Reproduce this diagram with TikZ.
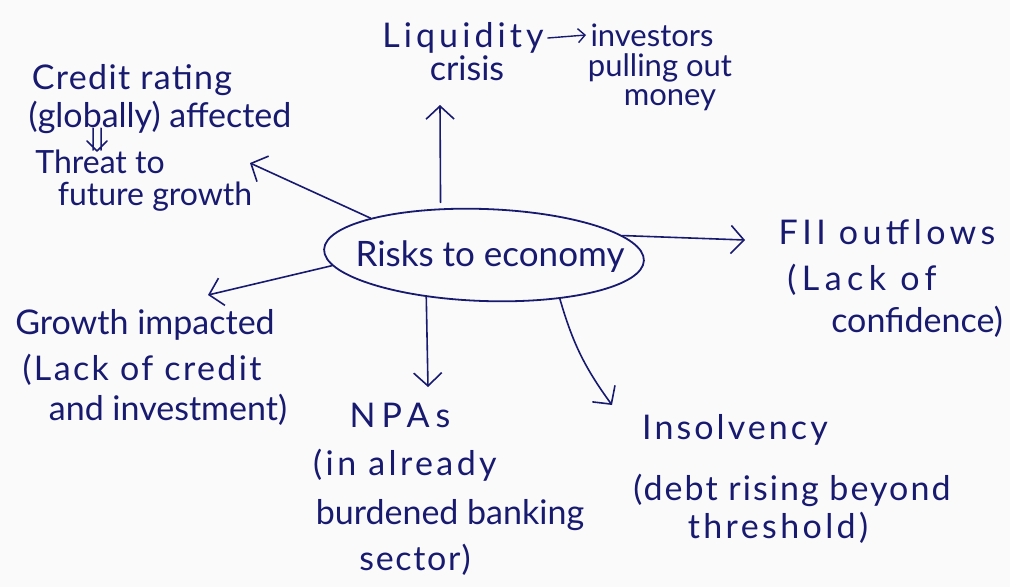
\documentclass[tikz,border=0pt]{standalone}
\usepackage{fontspec}
\setmainfont{Lato}
\usetikzlibrary{shapes.geometric,arrows.meta}
\definecolor{ink}{RGB}{24,26,112}
\definecolor{paper}{RGB}{250,250,250}
\tikzset{
  word/.style={text=ink, inner sep=0pt, font=\fontsize{34}{36}\selectfont},
  track/.style={word, font={\fontsize{34}{36}\selectfont\addfontfeatures{LetterSpace=#1}}},
  midword/.style={word, font=\fontsize{31}{33}\selectfont},
  link/.style={draw=ink, line width=1.6pt, line cap=round,
    -{Straight Barb[length=13pt,width=28pt,line width=1.6pt]}},
  hub/.style={ellipse, draw=ink, line width=1.8pt, minimum width=320pt,
    minimum height=92pt, inner sep=0pt}
}
\begin{document}
\begin{tikzpicture}[x=1pt,y=-1pt]
% page
\fill[paper] (0,0) rectangle (1010,587);
\useasboundingbox (0,0) rectangle (1010,587);

% central idea
\node[hub, rotate=-2] (ctr) at (484,255) {};
\node[word, font=\fontsize{35}{37}\selectfont] (ctrtext) at (490,257) {Risks to economy};

% liquidity branch
\node[track=12] (liq1) at (463,38) {Liquidity};
\node[word] (liq2) at (467,68) {crisis};
\node[midword] (inv1) at (652,35) {investors};
\node[midword] (inv2) at (660,68) {pulling out};
\node[midword] (inv3) at (670,100) {money};
\draw[link, line width=1.4pt, -{Straight Barb[length=7pt,width=14pt,line width=1.4pt]}]
  (liq1.east) ++(4,0) coordinate (liqA) (liqA) -- (inv1.west -| 586,0) coordinate (liqB);
\coordinate (liqTip) at (440,105);
\draw[link, shorten <=6pt] (ctr.135) -- (liqTip);

% credit rating branch
\node[track=4] (cr1) at (132,80) {Credit rating};
\node[word] (cr2) at (160,117) {(globally) affected};
% double "therefore" arrow between the two statements
\coordinate (dnA) at (93,128);
\coordinate (dnB) at (101,128);
\coordinate (dnA2) at (93,150);
\coordinate (dnB2) at (101,150);
\coordinate (dnL) at (87,141);
\coordinate (dnR) at (107,141);
\draw[ink, line width=1.5pt, line cap=round, line join=round]
  (dnA) -- (dnA2) (dnB) -- (dnB2) (dnL) -- (97,151) -- (dnR);
\node[word, font=\fontsize{32}{34}\selectfont] (cr4) at (100,162) {Threat to};
\node[word, font=\fontsize{32}{34}\selectfont] (cr5) at (155,197) {future growth};
\coordinate (crTip) at (250,163);
\draw[link] (ctr.164) -- (crTip);

% FII branch
\node[track=13] (fii1) at (887,232) {FII outflows};
\node[track=16] (fii2) at (862,280) {(Lack of};
\node[word] (fii3) at (917,322) {confidence)};
\coordinate (fiiTip) at (745,240);
\draw[link] (ctr.10) -- (fiiTip);

% growth branch
\node[word] (gr1) at (145,325) {Growth impacted};
\node[track=7] (gr2) at (142,370) {(Lack of credit};
\node[word] (gr3) at (168,410) {and investment)};
\coordinate (grTip) at (208,295);
\draw[link] (ctr.186) -- (grTip);

% NPA branch
\node[track=18] (npa1) at (400,415) {NPAs};
\node[track=10] (npa2) at (405,465) {(in already};
\node[word] (npa3) at (450,515) {burdened banking};
\node[track=5] (npa4) at (415,560) {sector)};
\coordinate (npaTip) at (428,387);
\draw[link] (ctr.218) -- (npaTip);

% insolvency branch
\node[track=9] (ins1) at (735,430) {Insolvency};
\node[track=6] (ins2) at (792,490) {(debt rising beyond};
\node[track=10] (ins3) at (778,528) {threshold)};
\coordinate (insTip) at (612,405);
\draw[link] (ctr.332) to[bend right=10] (insTip);
\end{tikzpicture}
\end{document}
